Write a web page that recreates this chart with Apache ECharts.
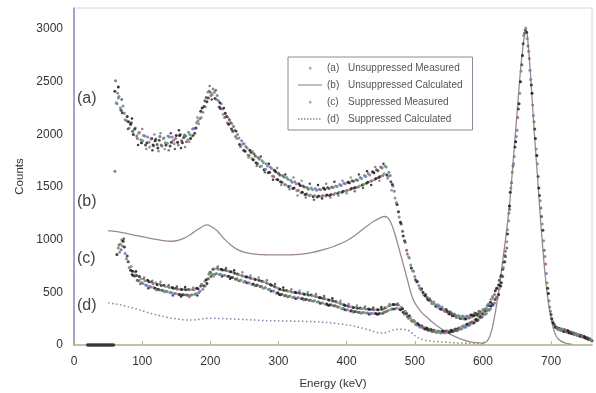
<!DOCTYPE html>
<html><head><meta charset="utf-8">
<script src="https://cdn.jsdelivr.net/npm/echarts/dist/echarts.min.js"></script>
<style>html,body{margin:0;padding:0;background:#fff}#c{width:596px;height:393px}</style>
</head><body><div id="c"></div>
<script>
// x tick labels (keV) and y tick labels (counts)
const xTicks = [0, 100, 200, 300, 400, 500, 600, 700];
const yTicks = [0, 500, 1000, 1500, 2000, 2500, 3000];

// (a) Unsuppressed Measured, run 1  [keV, counts]
const unsuppressedMeasured = [
[60,2410],[61,2510],[60,1650],[63,2290],[65,2450],[66,2360],[69,2230],[72,2270],[75,2140],[78,2170],[81,2060],[84,2110],[87,2000],[90,2060],[93,1960],[96,2020],[99,1920],
[102,1990],[105,1900],[108,1975],[111,1880],[114,1960],[117,1890],[120,1955],[123,1870],[126,1980],[129,1890],[132,1965],[135,1900],[138,1985],[141,1890],[144,1975],[147,1910],
[150,1990],[153,1900],[156,2000],[159,1920],[162,1995],[165,1930],[168,2020],[171,1960],[174,2050],[177,2010],[180,2110],[183,2100],[186,2220],[189,2210],[192,2320],[195,2310],
[198,2410],[201,2370],[204,2430],[207,2340],[210,2370],[213,2260],[216,2290],[219,2190],[222,2200],[225,2110],[228,2140],[231,2050],[234,2075],[237,1980],[240,2000],[243,1905],
[246,1940],[249,1850],[252,1885],[255,1805],[258,1850],[261,1770],[264,1815],[267,1730],[270,1780],[273,1695],[276,1750],[279,1665],[282,1720],[285,1635],[288,1690],[291,1605],
[294,1660],[297,1575],[300,1630],[303,1550],[306,1610],[309,1525],[312,1590],[315,1505],[318,1565],[321,1485],[324,1550],[327,1465],[330,1530],[333,1445],[336,1510],[339,1430],
[342,1495],[345,1420],[348,1490],[351,1410],[354,1485],[357,1405],[360,1480],[363,1410],[366,1490],[369,1415],[372,1495],[375,1420],[378,1500],[381,1430],[384,1510],[387,1440],
[390,1525],[393,1450],[396,1535],[399,1465],[402,1545],[405,1475],[408,1560],[411,1490],[414,1570],[417,1500],[420,1590],[423,1520],[426,1610],[429,1535],[432,1625],[435,1555],
[438,1645],[441,1570],[444,1665],[447,1590],[450,1690],[453,1610],[456,1700],[459,1615],[462,1640],[465,1550],[468,1510],[471,1395],[474,1335],[477,1215],[480,1150],[483,1035],
[486,975],[489,865],[492,825],[495,730],[498,700],[501,620],[504,605],[507,540],[510,535],[513,480],[516,480],[519,432],[522,440],[525,395],[528,408],[531,368],[534,382],
[537,345],[540,360],[543,322],[546,337],[549,300],[552,315],[555,278],[558,294],[561,260],[564,281],[567,251],[570,275],[573,248],[576,276],[579,254],[582,286],[585,268],
[588,303],[591,286],[594,320],[597,302],[600,336],[603,326],[606,375],[609,376],[612,434],[615,446],[618,515],[621,536],[624,615],[627,660],[630,785],[633,890],[636,1095],[639,1320]
];

// (a) Unsuppressed Measured, run 2  [keV, counts]
const unsuppressedMeasured2 = [
[62,2300],[65,2345],[68,2250],[71,2205],[74,2200],[77,2130],[80,2120],[83,2095],[86,2030],[89,2050],[92,1985],[95,2010],[98,1950],[101,1940],[104,1985],[107,1920],
[110,1925],[113,1955],[116,1900],[119,1940],[122,1905],[125,1945],[128,1900],[131,1960],[134,1920],[137,1915],[140,1975],[143,1925],[146,1945],[149,1960],[152,1925],
[155,1990],[158,1940],[161,1970],[164,1985],[167,1950],[170,2000],[173,1985],[176,2055],[179,2060],[182,2130],[185,2150],[188,2250],[191,2265],[194,2350],[197,2345],
[200,2400],[203,2380],[206,2400],[209,2330],[212,2320],[215,2245],[218,2240],[221,2160],[224,2170],[227,2095],[230,2110],[233,2030],[236,2040],[239,1960],[242,1965],
[245,1890],[248,1910],[251,1840],[254,1870],[257,1800],[260,1830],[263,1760],[266,1795],[269,1720],[272,1765],[275,1700],[278,1730],[281,1670],[284,1700],[287,1640],
[290,1675],[293,1600],[296,1645],[299,1570],[302,1615],[305,1545],[308,1595],[311,1520],[314,1575],[317,1510],[320,1545],[323,1490],[326,1530],[329,1470],[332,1515],
[335,1450],[338,1500],[341,1435],[344,1480],[347,1425],[350,1475],[353,1420],[356,1470],[359,1415],[362,1475],[365,1420],[368,1478],[371,1425],[374,1485],[377,1430],
[380,1495],[383,1440],[386,1505],[389,1450],[392,1515],[395,1460],[398,1530],[401,1470],[404,1540],[407,1485],[410,1555],[413,1495],[416,1565],[419,1510],[422,1580],
[425,1525],[428,1600],[431,1545],[434,1615],[437,1560],[440,1635],[443,1580],[446,1655],[449,1600],[452,1680],[455,1625],[458,1690],[461,1600],[464,1610],[467,1525],
[470,1460],[473,1350],[476,1265],[479,1165],[482,1080],[485,990],[488,900],[491,835],[494,760],[497,705],[500,650],[503,600],[506,565],[509,525],[512,500],[515,468],
[518,450],[521,425],[524,418],[527,392],[530,385],[533,362],[536,370],[539,340],[542,338],[545,318],[548,318],[551,295],[554,300],[557,278],[560,280],[563,260],
[566,270],[569,252],[572,268],[575,250],[578,270],[581,262],[584,284],[587,280],[590,300],[593,295],[596,318],[599,312],[602,340],[605,350],[608,390],[611,405],
[614,460],[617,480],[620,540],[623,570],[626,650],[629,720],[632,850],[635,980],[638,1250]
];

// (a) Unsuppressed Measured, run 3 (scattered channels)  [keV, counts]
const unsuppressedMeasured3 = [
[64,2390],[70,2330],[79,2050],[85,2150],[94,1900],[100,2050],[106,1860],[115,1850],[118,2000],[124,1840],[127,2010],[133,1860],[139,1850],[142,2010],[148,1860],
[154,2040],[157,1870],[163,1880],[169,1930],[175,1990],[181,2160],[187,2160],[193,2260],[196,2400],[199,2460],[202,2330],[208,2420],[214,2300],[220,2250],[226,2160],
[232,2100],[238,2030],[244,1880],[250,1910],[256,1780],[262,1840],[268,1700],[274,1790],[280,1640],[286,1720],[292,1570],[298,1680],[304,1520],[310,1620],[316,1480],
[322,1590],[328,1420],[334,1560],[340,1400],[346,1530],[352,1380],[358,1520],[364,1390],[370,1530],[376,1400],[382,1550],[388,1420],[394,1560],[400,1440],[406,1590],
[412,1460],[418,1620],[424,1490],[430,1650],[436,1520],[442,1690],[448,1560],[454,1720],[460,1580],[466,1470]
];

// zero-count channels below the threshold (drawn with (a))
const zeroChannels = [20,22,24,26,28,30,32,34,36,38,40,42,44,46,48,50,52,54,56,58];

// Photopeak region, measured (both runs overlap here)
const photopeakMeasured = [
[640,1450],[642,1540],[644,1700],[646,1790],[648,1930],[650,2040],[652,2240],[654,2390],[656,2600],[658,2750],[660,2940],[662,2990],[664,2970],[666,2840],[668,2720],
[670,2520],[672,2390],[674,2180],[676,2050],[678,1860],[680,1720],[682,1490],[684,1370],[686,1220],[688,1090],[690,900],[692,770],[694,590],[696,490],[698,360],[700,290],
[702,225],[704,200],[706,170],[708,172],[710,150],[712,160],[714,140],[716,152],[718,130],[720,145],[722,128],[724,138],[726,118],[728,126],[730,110],[732,118],[734,100],
[736,108],[738,92],[740,100],[742,84],[744,92],[746,76],[748,84],[750,68],[752,74],[754,58],[756,64],[758,48],[760,40]
];
const photopeakMeasured2 = [
[641,1490],[643,1640],[645,1720],[647,1880],[649,1980],[651,2160],[653,2290],[655,2500],[657,2660],[659,2860],[661,2960],[663,3010],[665,2910],[667,2790],[669,2610],
[671,2470],[673,2280],[675,2120],[677,1960],[679,1800],[681,1600],[683,1420],[685,1300],[687,1150],[689,990],[691,840],[693,680],[695,540],[697,420],[699,320],
[701,250],[703,210],[705,190],[707,165],[709,162],[711,145],[713,152],[715,138],[717,145],[719,128],[721,140],[723,122],[725,132],[727,115],[729,122],[731,106],
[733,114],[735,98],[737,104],[739,90],[741,96],[743,82],[745,88],[747,74],[749,78],[751,64],[753,70],[755,55],[757,58],[759,44]
];

// (c) Suppressed Measured, run 1  [keV, counts]
const suppressedMeasured = [
[63,860],[66,950],[69,905],[70,1000],[72,985],[75,870],[78,845],[81,735],[84,745],[87,660],[90,690],[93,615],[96,650],[99,590],[102,630],[105,570],[108,615],[111,555],
[114,600],[117,545],[120,590],[123,530],[126,580],[129,520],[132,568],[135,510],[138,555],[141,498],[144,545],[147,490],[150,538],[153,482],[156,532],[159,478],[162,530],
[165,475],[168,528],[171,472],[174,528],[177,480],[180,540],[183,495],[186,560],[189,530],[192,605],[195,585],[198,672],[201,650],[204,720],[207,672],[210,728],[213,670],
[216,720],[219,660],[222,712],[225,652],[228,700],[231,640],[234,690],[237,625],[240,675],[243,610],[246,660],[249,598],[252,648],[255,588],[258,638],[261,575],[264,628],
[267,565],[270,620],[273,556],[276,606],[279,542],[282,592],[285,528],[288,575],[291,512],[294,556],[297,492],[300,538],[303,478],[306,525],[309,468],[312,518],[315,460],
[318,510],[321,452],[324,502],[327,445],[330,495],[333,438],[336,488],[339,432],[342,482],[345,425],[348,475],[351,418],[354,462],[357,408],[360,452],[363,398],[366,442],
[369,388],[372,432],[375,380],[378,425],[381,372],[384,412],[387,360],[390,398],[393,345],[396,382],[399,333],[402,370],[405,322],[408,362],[411,315],[414,355],[417,310],
[420,352],[423,307],[426,348],[429,304],[432,342],[435,300],[438,340],[441,298],[444,336],[447,296],[450,340],[453,302],[456,352],[459,320],[462,372],[465,338],[468,385],
[471,345],[474,384],[477,342],[480,362],[483,310],[486,320],[489,270],[492,278],[495,232],[498,236],[501,197],[504,204],[507,173],[510,182],[513,156],[516,166],[519,142],
[522,152],[525,131],[528,140],[531,121],[534,133],[537,117],[540,131],[543,117],[546,134],[549,121],[552,140],[555,128],[558,148],[561,137],[564,160],[567,152],[570,177],
[573,168],[576,194],[579,186],[582,214],[585,206],[588,238],[591,231],[594,265],[597,261],[600,295],[603,291],[606,328],[609,329],[612,370],[615,378],[618,432],[621,450],
[624,532],[627,590],[630,735],[633,840],[636,1055],[639,1290]
];

// (c) Suppressed Measured, run 2  [keV, counts]
const suppressedMeasured2 = [
[65,920],[68,960],[71,940],[74,930],[77,820],[80,790],[83,710],[86,700],[89,655],[92,660],[95,610],[98,630],[101,585],[104,610],[107,565],[110,600],[113,550],[116,585],
[119,540],[122,575],[125,525],[128,565],[131,515],[134,555],[137,505],[140,545],[143,495],[146,540],[149,490],[152,530],[155,480],[158,528],[161,478],[164,525],[167,475],
[170,525],[173,478],[176,525],[179,490],[182,535],[185,510],[188,570],[191,560],[194,620],[197,630],[200,690],[203,670],[206,725],[209,680],[212,720],[215,672],[218,712],
[221,662],[224,705],[227,652],[230,695],[233,642],[236,682],[239,630],[242,668],[245,618],[248,655],[251,605],[254,645],[257,592],[260,632],[263,580],[266,622],[269,570],
[272,612],[275,558],[278,600],[281,545],[284,585],[287,530],[290,568],[293,512],[296,548],[299,495],[302,530],[305,482],[308,520],[311,472],[314,510],[317,465],[320,502],
[323,455],[326,495],[329,450],[332,488],[335,442],[338,482],[341,435],[344,475],[347,428],[350,468],[353,420],[356,458],[359,410],[362,448],[365,400],[368,438],[371,390],
[374,428],[377,382],[380,418],[383,372],[386,405],[389,360],[392,390],[395,348],[398,375],[401,335],[404,365],[407,325],[410,356],[413,318],[416,350],[419,312],[422,345],
[425,308],[428,342],[431,305],[434,338],[437,302],[440,335],[443,300],[446,335],[449,300],[452,340],[455,310],[458,355],[461,328],[464,375],[467,345],[470,385],[473,350],
[476,380],[479,335],[482,345],[485,295],[488,300],[491,255],[494,258],[497,220],[500,222],[503,190],[506,193],[509,168],[512,172],[515,152],[518,158],[521,140],[524,146],
[527,128],[530,136],[533,120],[536,130],[539,115],[542,130],[545,116],[548,132],[551,122],[554,140],[557,130],[560,152],[563,140],[566,165],[569,155],[572,182],[575,172],
[578,200],[581,192],[584,220],[587,212],[590,245],[593,238],[596,272],[599,268],[602,305],[605,300],[608,338],[611,345],[614,390],[617,400],[620,455],[623,480],[626,560],
[629,650],[632,790],[635,920],[638,1180]
];

// (c) Suppressed Measured, run 3 (scattered channels)  [keV, counts]
const suppressedMeasured3 = [
[67,880],[73,1010],[79,790],[85,670],[91,700],[97,580],[103,640],[109,540],[115,610],[121,520],[127,600],[133,500],[139,570],[145,470],[151,555],[157,460],[163,550],
[169,455],[175,545],[181,470],[187,580],[193,560],[199,690],[205,650],[211,745],[217,650],[223,730],[229,630],[235,710],[241,610],[247,690],[253,590],[259,660],[265,560],
[271,640],[277,540],[283,615],[289,510],[295,580],[301,480],[307,545],[313,455],[319,530],[325,440],[331,515],[337,425],[343,500],[349,415],[355,485],[361,395],[367,465],
[373,375],[379,445],[385,365],[391,420],[397,335],[403,390],[409,310],[415,375],[421,300],[427,365],[433,290],[439,355],[445,290],[451,360],[457,315],[463,390],[469,340],
[475,395]
];

// (b) Unsuppressed Calculated  [keV, counts]
const unsuppressedCalculated = [
[50,1086],[60,1078],[70,1068],[80,1055],[90,1042],[100,1030],[110,1015],[120,1002],[130,992],[140,985],[150,990],[160,1010],[170,1045],[180,1090],[190,1130],[195,1140],
[200,1130],[210,1085],[220,1010],[230,950],[240,905],[250,880],[260,868],[270,860],[280,857],[290,855],[300,855],[310,855],[320,857],[330,860],[340,868],[350,880],[360,895],
[370,912],[380,933],[390,960],[400,990],[410,1030],[420,1080],[430,1130],[440,1175],[450,1210],[455,1220],[460,1210],[465,1160],[470,1070],[475,960],[480,840],[485,720],
[490,600],[495,480],[500,400],[510,310],[520,250],[530,195],[540,150],[550,110],[560,78],[570,52],[580,33],[590,22],[600,18],[605,30],[610,80],[615,200],[620,380],[625,600],
[630,850],[635,1100],[640,1400],[645,1800],[650,2200],[655,2600],[660,2900],[663,2990],[665,2950],[670,2550],[675,2050],[680,1600],[685,1150],[690,750],[695,450],[700,250],
[705,120],[710,60],[720,20],[730,8]
];

// (d) Suppressed Calculated  [keV, counts]
const suppressedCalculated = [
[50,400],[60,390],[70,378],[80,362],[90,345],[100,325],[110,305],[120,288],[130,272],[140,258],[150,248],[160,240],[170,237],[180,240],[190,250],[200,255],[210,253],
[220,250],[230,248],[240,245],[250,242],[260,238],[270,236],[280,232],[290,230],[300,229],[310,228],[320,227],[330,225],[340,224],[350,222],[360,219],[370,214],[380,208],
[390,200],[400,192],[410,180],[420,165],[430,148],[440,128],[448,114],[455,115],[462,128],[470,145],[477,150],[484,148],[490,140],[495,120],[500,90],[505,70],[510,55],
[520,40],[530,32],[540,28],[550,24],[560,20],[570,18],[580,16],[590,14],[600,12]
];

const nameA = '(a) Unsuppressed Measured';
const nameB = '(b) Unsuppressed Calculated';
const nameC = '(c) Suppressed Measured';
const nameD = '(d) Suppressed Calculated';

const dotPalette = ['#222222','#666666','#9a5a5a','#5f8f72','#111111','#6a76b8','#333333','#8a6f98','#888888','#1a1a1a','#6f8a65','#4a4a4a'];
const dotColor = p => dotPalette[p.dataIndex % dotPalette.length];
const dotColor2 = p => dotPalette[(p.dataIndex * 7 + 3) % dotPalette.length];
const dotColor3 = p => dotPalette[(p.dataIndex * 5 + 1) % dotPalette.length];
const dotIcon = 'path://M0,0L0.001,0Z M11,5h2.4v2.4h-2.4Z M24,12L24.001,12Z';
const solidIcon = 'path://M0,0L0.001,0Z M0,5.4h24v1.2h-24Z M24,12L24.001,12Z';
let dottedIcon = 'path://M0,0L0.001,0Z';
for (let k = 0; k < 8; k++) dottedIcon += ' M' + (k * 3) + ',5.3h1.5v1.5h-1.5Z';
dottedIcon += ' M24,12L24.001,12Z';

const chart = echarts.init(document.getElementById('c'), null, {renderer: 'canvas'});
const scatter = (name, data, color, size) => ({name, type: 'scatter', data, symbolSize: size || 3, z: 3,
  itemStyle: {color, opacity: 0.85}});
chart.setOption({
  backgroundColor: '#ffffff',
  animation: false,
  grid: {left: 74, right: 4, top: 8, bottom: 48, show: true, borderColor: '#d6d6ea', borderWidth: 1,
    backgroundColor: 'transparent', containLabel: false, outerBoundsMode: 'none'},
  xAxis: {
    type: 'value', min: 0, max: 760, interval: 100,
    name: 'Energy (keV)', nameLocation: 'middle', nameGap: 33,
    nameTextStyle: {fontFamily: 'Liberation Sans', fontSize: 11.5, color: '#333'},
    axisLine: {show: true, onZero: false, lineStyle: {color: '#b4b48e', width: 1.5}},
    axisTick: {show: true, inside: true, length: 4, lineStyle: {color: '#b4b48e'}},
    axisLabel: {showMaxLabel: false, margin: 11, fontFamily: 'Liberation Sans', fontSize: 12, color: '#333',
      formatter: v => xTicks.includes(v) ? String(v) : ''},
    splitLine: {show: false}
  },
  yAxis: {
    type: 'value', min: 0, max: 3200, interval: 500,
    name: 'Counts', nameLocation: 'middle', nameGap: 42, nameRotate: 90,
    nameTextStyle: {fontFamily: 'Liberation Sans', fontSize: 11.5, color: '#333'},
    axisLine: {show: true, onZero: false, lineStyle: {color: '#8c8cc0', width: 1.5}},
    axisTick: {show: false},
    axisLabel: {showMaxLabel: false, margin: 11, fontFamily: 'Liberation Sans', fontSize: 12, color: '#333',
      formatter: v => yTicks.includes(v) ? String(v) : ''},
    splitLine: {show: false}
  },
  legend: {
    orient: 'vertical', left: 288, top: 57,
    padding: [5, 10, 5, 10], itemGap: 5, itemWidth: 24, itemHeight: 12,
    borderColor: '#8a8a9a', borderWidth: 1, backgroundColor: '#fff',
    textStyle: {fontFamily: 'Liberation Sans', fontSize: 10, color: '#555',
      rich: {p: {width: 21, fontSize: 10, color: '#555', fontFamily: 'Liberation Sans'},
             n: {fontSize: 10, color: '#555', fontFamily: 'Liberation Sans'}}},
    formatter: name => {
      const i = name.indexOf(' ');
      return '{p|' + name.slice(0, i) + '}{n|' + name.slice(i + 1) + '}';
    },
    data: [
      {name: nameA, icon: dotIcon, itemStyle: {color: '#aaaaaa', opacity: 1}},
      {name: nameB, icon: solidIcon, itemStyle: {color: '#8a7a84'}},
      {name: nameC, icon: dotIcon, itemStyle: {color: '#aaaaaa', opacity: 1}},
      {name: nameD, icon: dottedIcon, itemStyle: {color: '#8088a8'}}
    ]
  },
  graphic: [
    {type: 'text', left: 77, top: 91, style: {text: '(a)', font: '16px "Liberation Sans"', fill: '#444'}},
    {type: 'text', left: 77, top: 194, style: {text: '(b)', font: '16px "Liberation Sans"', fill: '#444'}},
    {type: 'text', left: 77, top: 251, style: {text: '(c)', font: '16px "Liberation Sans"', fill: '#444'}},
    {type: 'text', left: 77, top: 298, style: {text: '(d)', font: '16px "Liberation Sans"', fill: '#444'}}
  ],
  series: [
    {name: nameB, type: 'line', data: unsuppressedCalculated, smooth: 0.3, symbol: 'none',
      lineStyle: {color: '#9c8892', width: 1.3}, itemStyle: {color: '#9c8892'}, z: 2},
    {name: nameD, type: 'line', data: suppressedCalculated, smooth: 0.3, symbol: 'none',
      lineStyle: {color: '#8088a8', width: 1.5, type: [1.5, 2.5]}, itemStyle: {color: '#8088a8'}, z: 2},
    scatter(nameA, unsuppressedMeasured, dotColor),
    scatter(nameA, unsuppressedMeasured2, dotColor2),
    scatter(nameA, unsuppressedMeasured3, dotColor3, 2.5),
    scatter(nameA, zeroChannels.map(e => [e, 0]), '#333333', 3.5),
    scatter(nameA, photopeakMeasured, dotColor),
    scatter(nameA, photopeakMeasured2, dotColor2),
    scatter(nameC, suppressedMeasured, dotColor),
    scatter(nameC, suppressedMeasured2, dotColor2),
    scatter(nameC, suppressedMeasured3, dotColor3, 2.5)
  ]
});
</script>
</body></html>
